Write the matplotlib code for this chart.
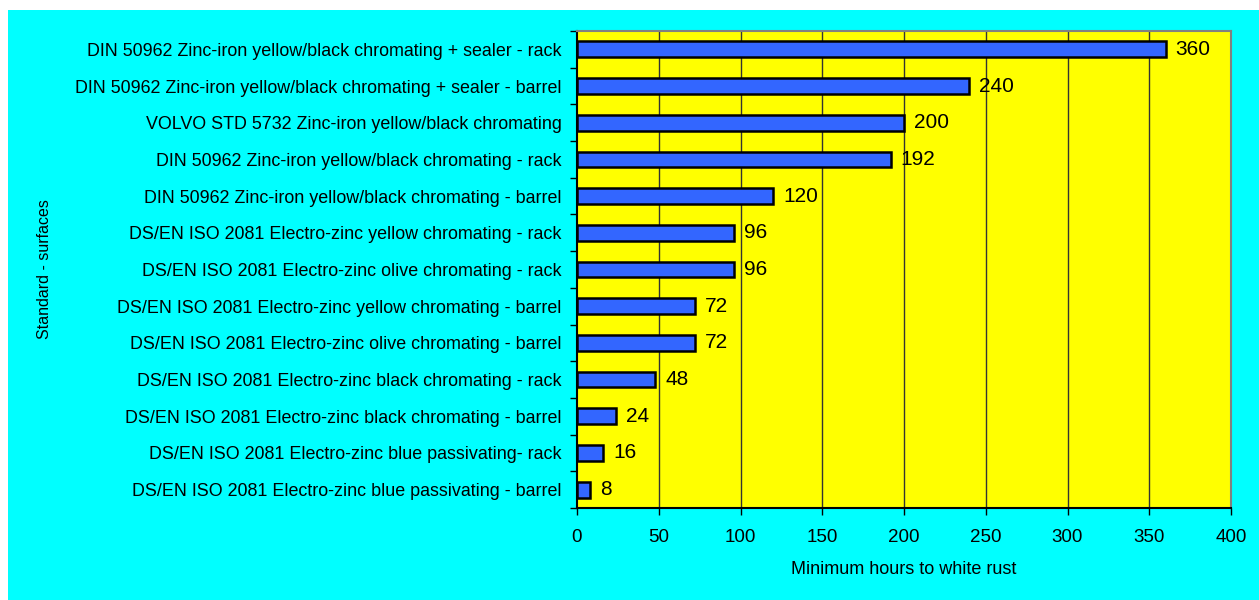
import numpy as np
import matplotlib.pyplot as plt
from matplotlib.patches import Rectangle

plt.rcParams['font.family'] = ['Liberation Sans', 'DejaVu Sans']

# Categories from top to bottom
categories = [
    'DIN 50962 Zinc-iron yellow/black chromating + sealer - rack',
    'DIN 50962 Zinc-iron yellow/black chromating + sealer - barrel',
    'VOLVO STD 5732 Zinc-iron yellow/black chromating',
    'DIN 50962 Zinc-iron yellow/black chromating - rack',
    'DIN 50962 Zinc-iron yellow/black chromating - barrel',
    'DS/EN ISO 2081 Electro-zinc yellow chromating - rack',
    'DS/EN ISO 2081 Electro-zinc olive chromating - rack',
    'DS/EN ISO 2081 Electro-zinc yellow chromating - barrel',
    'DS/EN ISO 2081 Electro-zinc olive chromating - barrel',
    'DS/EN ISO 2081 Electro-zinc black chromating - rack',
    'DS/EN ISO 2081 Electro-zinc black chromating - barrel',
    'DS/EN ISO 2081 Electro-zinc blue passivating- rack',
    'DS/EN ISO 2081 Electro-zinc blue passivating - barrel',
]
hours = [360, 240, 200, 192, 120, 96, 96, 72, 72, 48, 24, 16, 8]
x_ticks = [0, 50, 100, 150, 200, 250, 300, 350, 400]

fig = plt.figure(figsize=(12.59, 6.0), dpi=100)
fig.patch.set_facecolor('white')
# cyan chart area
fig.patches.append(Rectangle((8 / 1259, 0), 1, 590 / 600, transform=fig.transFigure,
                             facecolor='#00FFFF', edgecolor='none', zorder=-10))

ax = fig.add_axes([577 / 1259, 92 / 600, 654 / 1259, 477 / 600])
ax.set_facecolor('#FFFF00')

y = np.arange(len(categories))
ax.barh(y, hours, height=0.43, color='#3366FF', edgecolor='black', linewidth=1.8, zorder=3)

for yi, v in zip(y, hours):
    ax.annotate(str(v), (v, yi), xytext=(7, 0), textcoords='offset points',
                va='center', ha='left', fontsize=15, zorder=4)

ax.set_xlim(0, 400)
ax.set_ylim(len(categories) - 0.5, -0.5)
ax.set_xticks(x_ticks)
ax.set_yticks(y)
ax.set_yticklabels(categories, fontsize=12.9)
ax.set_yticks(np.arange(-0.5, len(categories)), minor=True)
ax.tick_params(axis='y', which='major', length=0, pad=11)
ax.tick_params(axis='y', which='minor', length=5, width=1, color='black')
ax.tick_params(axis='x', length=5, width=1, labelsize=13.5, pad=10)

for xv in x_ticks[1:-1]:
    ax.axvline(xv, color='#333333', linewidth=1, zorder=1)

ax.spines['left'].set_color('black')
ax.spines['bottom'].set_color('black')
ax.spines['top'].set_color('#808080')
ax.spines['right'].set_color('#808080')
for s in ax.spines.values():
    s.set_linewidth(1.5)

ax.set_xlabel('Minimum hours to white rust', fontsize=13, labelpad=11)
ax.set_ylabel('Standard - surfaces', fontsize=11.5, labelpad=17)

fig.savefig('out.png', dpi=100)
